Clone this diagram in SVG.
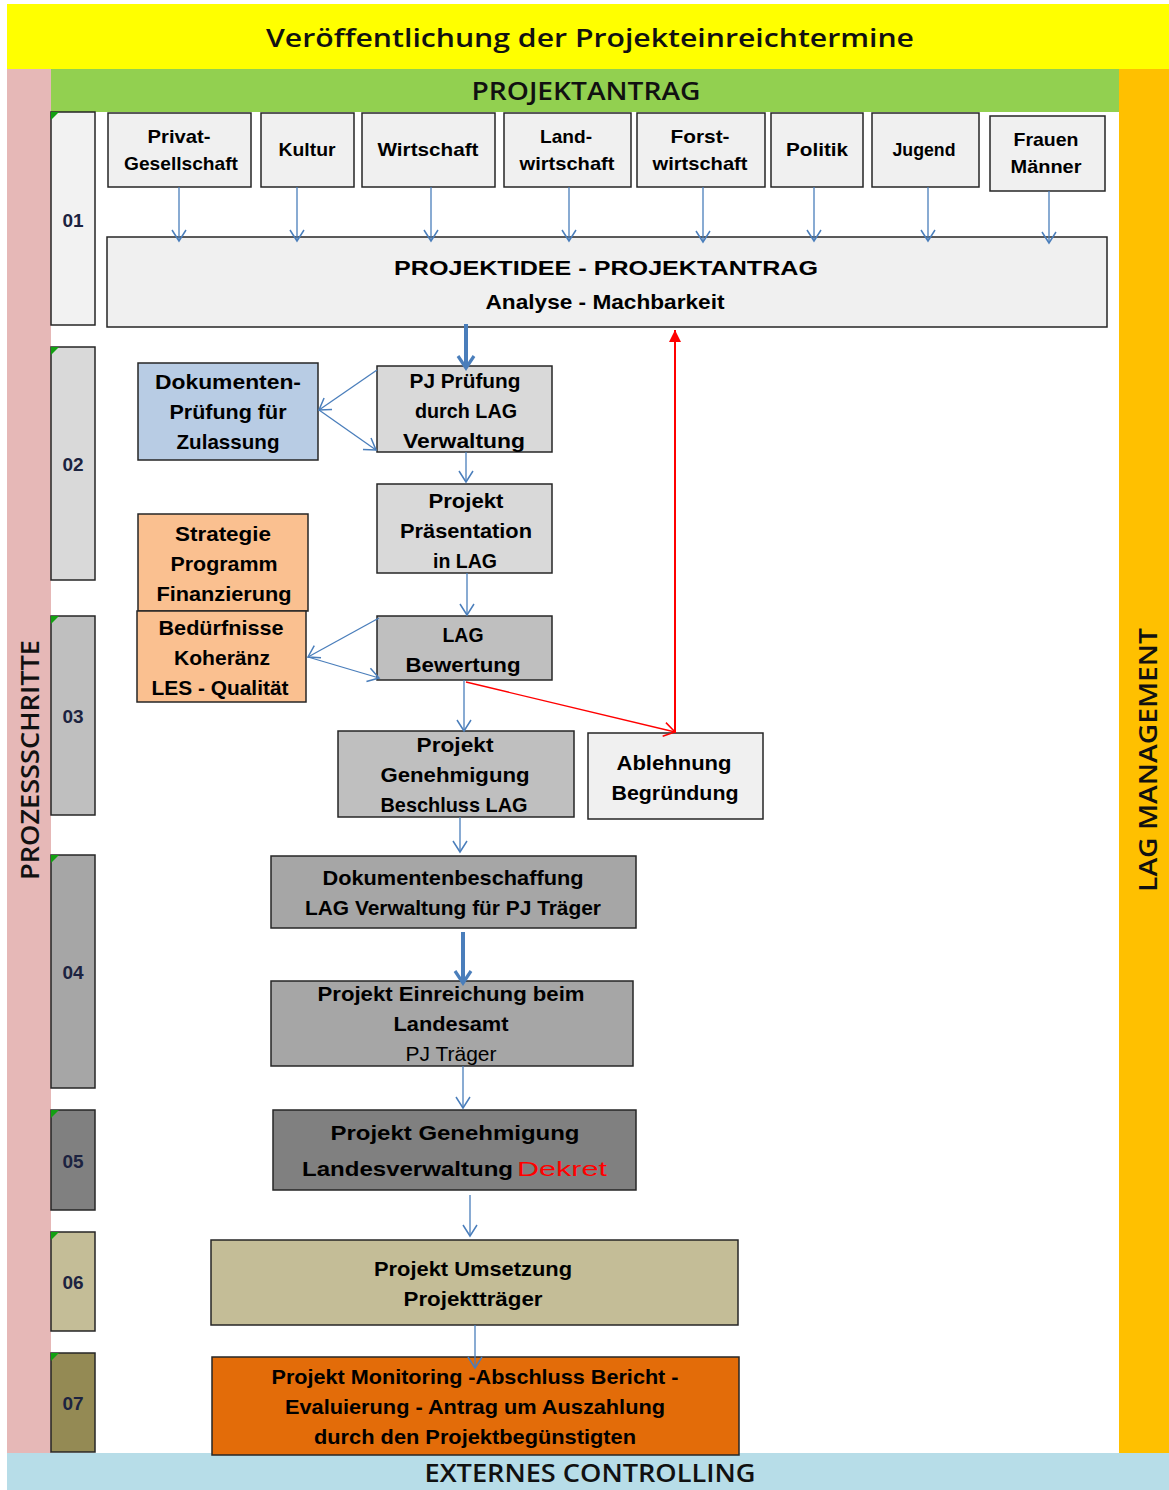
<svg xmlns="http://www.w3.org/2000/svg" width="1169" height="1490" viewBox="0 0 1169 1490">
<style>
.t{font-family:"Liberation Sans",Arial,sans-serif;font-weight:bold;font-size:21px;fill:#000;text-anchor:middle}
.s{font-size:19px}
.n{font-weight:normal}
.box{stroke:#262626;stroke-width:1.5}
.step{stroke:#262626;stroke-width:1.5}
.lbl{font-family:"Liberation Sans",Arial,sans-serif;font-weight:bold;font-size:19px;fill:#1c2340;text-anchor:middle}
.band{font-family:"Open Sans","Liberation Sans",Arial,sans-serif;font-weight:600;font-size:26px;fill:#111;text-anchor:middle}
.c{stroke:#4a7ebb;stroke-width:1.3;fill:none}
.ct{stroke:#4a7ebb;stroke-width:4;fill:none}
.tri{fill:#12a012}
</style>
<defs>
<marker id="a" markerUnits="userSpaceOnUse" markerWidth="24" markerHeight="24" viewBox="-12 -12 24 24" refX="0" refY="0" orient="auto" overflow="visible">
<path d="M-11,-7 L0,0 L-11,7" fill="none" stroke="#4a7ebb" stroke-width="1.5"/>
</marker>
<marker id="ab" markerUnits="userSpaceOnUse" markerWidth="24" markerHeight="24" viewBox="-12 -12 24 24" refX="0" refY="0" orient="auto" overflow="visible">
<path d="M-12,-8 L0,0 L-12,8" fill="none" stroke="#4a7ebb" stroke-width="3.2"/>
</marker>
<marker id="ar" markerUnits="userSpaceOnUse" markerWidth="24" markerHeight="24" viewBox="-12 -12 24 24" refX="0" refY="0" orient="auto" overflow="visible">
<path d="M-11,-7 L0,0 L-11,7" fill="none" stroke="#ff0000" stroke-width="1.5"/>
</marker>
<marker id="arf" markerUnits="userSpaceOnUse" markerWidth="24" markerHeight="24" viewBox="-12 -12 24 24" refX="0" refY="0" orient="auto" overflow="visible">
<path d="M-12,-6 L0,0 L-12,6 Z" fill="#ff0000" stroke="none"/>
</marker>
</defs>

<rect width="1169" height="1490" fill="#ffffff"/>

<!-- bands -->
<g id="band-title">
<rect x="7" y="4" width="1162" height="65" fill="#ffff00"/>
<text class="band" x="590" y="47" font-size="29" textLength="648" lengthAdjust="spacingAndGlyphs">Veröffentlichung der Projekteinreichtermine</text>
</g>
<g id="band-left">
<rect x="7" y="69" width="44" height="1384" fill="#e6b8b7"/>
<text class="band" transform="translate(39,760) rotate(-90)" x="0" y="0" font-size="25" textLength="240" lengthAdjust="spacingAndGlyphs">PROZESSSCHRITTE</text>
</g>
<g id="band-right">
<rect x="1119" y="69" width="50" height="1384" fill="#ffc000"/>
<text class="band" transform="translate(1157,760) rotate(-90)" x="0" y="0" font-size="25" textLength="264" lengthAdjust="spacingAndGlyphs">LAG MANAGEMENT</text>
</g>
<g id="band-top">
<rect x="51" y="69" width="1068" height="43" fill="#92d050"/>
<text class="band" x="586" y="100" textLength="229" lengthAdjust="spacingAndGlyphs">PROJEKTANTRAG</text>
</g>
<g id="band-bottom">
<rect x="7" y="1453" width="1162" height="37" fill="#b7dde8"/>
<text class="band" x="590" y="1482" font-size="25" textLength="331" lengthAdjust="spacingAndGlyphs">EXTERNES CONTROLLING</text>
</g>

<!-- step boxes -->
<g id="step-01"><rect class="step" x="51" y="112" width="44" height="213" fill="#f2f2f2"/><polygon class="tri" points="51,112 59,112 51,120"/><text class="lbl" x="73" y="227">01</text></g>
<g id="step-02"><rect class="step" x="51" y="347" width="44" height="233" fill="#d9d9d9"/><polygon class="tri" points="51,347 59,347 51,355"/><text class="lbl" x="73" y="471">02</text></g>
<g id="step-03"><rect class="step" x="51" y="616" width="44" height="199" fill="#bfbfbf"/><polygon class="tri" points="51,616 59,616 51,624"/><text class="lbl" x="73" y="723">03</text></g>
<g id="step-04"><rect class="step" x="51" y="855" width="44" height="233" fill="#a6a6a6"/><polygon class="tri" points="51,855 59,855 51,863"/><text class="lbl" x="73" y="979">04</text></g>
<g id="step-05"><rect class="step" x="51" y="1110" width="44" height="100" fill="#808080"/><polygon class="tri" points="51,1110 59,1110 51,1118"/><text class="lbl" x="73" y="1168">05</text></g>
<g id="step-06"><rect class="step" x="51" y="1232" width="44" height="99" fill="#c4bd97"/><polygon class="tri" points="51,1232 59,1232 51,1240"/><text class="lbl" x="73" y="1289">06</text></g>
<g id="step-07"><rect class="step" x="51" y="1353" width="44" height="99" fill="#948a54"/><polygon class="tri" points="51,1353 59,1353 51,1361"/><text class="lbl" x="73" y="1410">07</text></g>

<!-- top source boxes -->
<g id="n-privat"><rect class="box" x="108" y="113" width="143" height="74" fill="#f0f0f0"/>
<text class="t s" x="179" y="143" textLength="63" lengthAdjust="spacingAndGlyphs">Privat-</text>
<text class="t s" x="181" y="170" textLength="114" lengthAdjust="spacingAndGlyphs">Gesellschaft</text></g>
<g id="n-kultur"><rect class="box" x="261" y="113" width="93" height="74" fill="#f0f0f0"/>
<text class="t s" x="307" y="156" textLength="57" lengthAdjust="spacingAndGlyphs">Kultur</text></g>
<g id="n-wirtschaft"><rect class="box" x="362" y="113" width="133" height="74" fill="#f0f0f0"/>
<text class="t s" x="428" y="156" textLength="101" lengthAdjust="spacingAndGlyphs">Wirtschaft</text></g>
<g id="n-land"><rect class="box" x="504" y="113" width="127" height="74" fill="#f0f0f0"/>
<text class="t s" x="566" y="143" textLength="52" lengthAdjust="spacingAndGlyphs">Land-</text>
<text class="t s" x="567" y="170" textLength="95" lengthAdjust="spacingAndGlyphs">wirtschaft</text></g>
<g id="n-forst"><rect class="box" x="637" y="113" width="128" height="74" fill="#f0f0f0"/>
<text class="t s" x="700" y="143" textLength="59" lengthAdjust="spacingAndGlyphs">Forst-</text>
<text class="t s" x="700" y="170" textLength="95" lengthAdjust="spacingAndGlyphs">wirtschaft</text></g>
<g id="n-politik"><rect class="box" x="771" y="113" width="92" height="74" fill="#f0f0f0"/>
<text class="t s" x="817" y="156" textLength="62" lengthAdjust="spacingAndGlyphs">Politik</text></g>
<g id="n-jugend"><rect class="box" x="872" y="113" width="107" height="74" fill="#f0f0f0"/>
<text class="t s" x="924" y="156" textLength="63" lengthAdjust="spacingAndGlyphs">Jugend</text></g>
<g id="n-frauen"><rect class="box" x="990" y="116" width="115" height="75" fill="#f0f0f0"/>
<text class="t s" x="1046" y="146" textLength="65" lengthAdjust="spacingAndGlyphs">Frauen</text>
<text class="t s" x="1046" y="173" textLength="71" lengthAdjust="spacingAndGlyphs">Männer</text></g>

<g id="n-projektidee"><rect class="box" x="107" y="237" width="1000" height="90" fill="#f0f0f0"/>
<text class="t" x="606" y="275" font-size="26" textLength="424" lengthAdjust="spacingAndGlyphs">PROJEKTIDEE - PROJEKTANTRAG</text>
<text class="t" x="605" y="309" font-size="21" textLength="239" lengthAdjust="spacingAndGlyphs">Analyse - Machbarkeit</text></g>

<g id="n-dokpruef"><rect class="box" x="138" y="363" width="180" height="97" fill="#b8cce4"/>
<text class="t" x="228" y="389" textLength="146" lengthAdjust="spacingAndGlyphs">Dokumenten-</text>
<text class="t" x="228" y="419" textLength="117" lengthAdjust="spacingAndGlyphs">Prüfung für</text>
<text class="t" x="228" y="449" textLength="103" lengthAdjust="spacingAndGlyphs">Zulassung</text></g>

<g id="n-pjpruef"><rect class="box" x="377" y="366" width="175" height="86" fill="#d9d9d9"/>
<text class="t" x="465" y="388" textLength="111" lengthAdjust="spacingAndGlyphs">PJ Prüfung</text>
<text class="t" x="466" y="418" textLength="102" lengthAdjust="spacingAndGlyphs">durch LAG</text>
<text class="t" x="464" y="448" textLength="122" lengthAdjust="spacingAndGlyphs">Verwaltung</text></g>

<g id="n-praesentation"><rect class="box" x="377" y="484" width="175" height="89" fill="#d9d9d9"/>
<text class="t" x="466" y="508" textLength="75" lengthAdjust="spacingAndGlyphs">Projekt</text>
<text class="t" x="466" y="538" textLength="132" lengthAdjust="spacingAndGlyphs">Präsentation</text>
<text class="t" x="465" y="568" textLength="64" lengthAdjust="spacingAndGlyphs">in LAG</text></g>

<g id="n-strategie"><rect class="box" x="138" y="514" width="170" height="97" fill="#fac090"/>
<text class="t" x="223" y="541" textLength="96" lengthAdjust="spacingAndGlyphs">Strategie</text>
<text class="t" x="224" y="571" textLength="107" lengthAdjust="spacingAndGlyphs">Programm</text>
<text class="t" x="224" y="601" textLength="135" lengthAdjust="spacingAndGlyphs">Finanzierung</text></g>

<g id="n-beduerfnisse"><rect class="box" x="137" y="611" width="169" height="91" fill="#fac090"/>
<text class="t" x="221" y="635" textLength="125" lengthAdjust="spacingAndGlyphs">Bedürfnisse</text>
<text class="t" x="222" y="665" textLength="96" lengthAdjust="spacingAndGlyphs">Koheränz</text>
<text class="t" x="220" y="695" textLength="137" lengthAdjust="spacingAndGlyphs">LES - Qualität</text></g>

<g id="n-lagbewertung"><rect class="box" x="377" y="616" width="175" height="64" fill="#bfbfbf"/>
<text class="t" x="463" y="642" textLength="41" lengthAdjust="spacingAndGlyphs">LAG</text>
<text class="t" x="463" y="672" textLength="115" lengthAdjust="spacingAndGlyphs">Bewertung</text></g>

<g id="n-genehmigung-lag"><rect class="box" x="338" y="731" width="236" height="86" fill="#bfbfbf"/>
<text class="t" x="455" y="752" textLength="77" lengthAdjust="spacingAndGlyphs">Projekt</text>
<text class="t" x="455" y="782" textLength="149" lengthAdjust="spacingAndGlyphs">Genehmigung</text>
<text class="t" x="454" y="812" textLength="147" lengthAdjust="spacingAndGlyphs">Beschluss LAG</text></g>

<g id="n-ablehnung"><rect class="box" x="588" y="733" width="175" height="86" fill="#f0f0f0"/>
<text class="t" x="674" y="770" textLength="115" lengthAdjust="spacingAndGlyphs">Ablehnung</text>
<text class="t" x="675" y="800" textLength="127" lengthAdjust="spacingAndGlyphs">Begründung</text></g>

<g id="n-dokbeschaffung"><rect class="box" x="271" y="856" width="365" height="72" fill="#a6a6a6"/>
<text class="t" x="453" y="885" textLength="261" lengthAdjust="spacingAndGlyphs">Dokumentenbeschaffung</text>
<text class="t" x="453" y="915" textLength="296" lengthAdjust="spacingAndGlyphs">LAG Verwaltung für PJ Träger</text></g>

<g id="n-einreichung"><rect class="box" x="271" y="981" width="362" height="85" fill="#a6a6a6"/>
<text class="t" x="451" y="1001" textLength="267" lengthAdjust="spacingAndGlyphs">Projekt  Einreichung beim</text>
<text class="t" x="451" y="1031" textLength="115" lengthAdjust="spacingAndGlyphs">Landesamt</text>
<text class="t n" x="451" y="1061" textLength="91" lengthAdjust="spacingAndGlyphs">PJ Träger</text></g>

<g id="n-genehmigung-land"><rect class="box" x="273" y="1110" width="363" height="80" fill="#808080"/>
<text class="t" x="455" y="1140" textLength="249" lengthAdjust="spacingAndGlyphs">Projekt Genehmigung</text>
<text class="t" x="302" y="1176" style="text-anchor:start" textLength="211" lengthAdjust="spacingAndGlyphs">Landesverwaltung</text>
<text class="t n" x="517" y="1176" style="text-anchor:start;fill:#ff0000" font-size="28" textLength="90" lengthAdjust="spacingAndGlyphs">Dekret</text></g>

<g id="n-umsetzung"><rect class="box" x="211" y="1240" width="527" height="85" fill="#c4bd97"/>
<text class="t" x="473" y="1276" textLength="198" lengthAdjust="spacingAndGlyphs">Projekt Umsetzung</text>
<text class="t" x="473" y="1306" textLength="139" lengthAdjust="spacingAndGlyphs">Projektträger</text></g>

<g id="n-monitoring"><rect class="box" x="212" y="1357" width="527" height="98" fill="#e36c09"/>
<text class="t" x="475" y="1384" textLength="407" lengthAdjust="spacingAndGlyphs">Projekt Monitoring  -Abschluss Bericht -</text>
<text class="t" x="475" y="1414" textLength="380" lengthAdjust="spacingAndGlyphs">Evaluierung  - Antrag um Auszahlung</text>
<text class="t" x="475" y="1444" textLength="322" lengthAdjust="spacingAndGlyphs">durch den Projektbegünstigten</text></g>

<!-- connectors -->
<g id="connectors">
<line class="c" x1="179" y1="187" x2="179" y2="241" marker-end="url(#a)"/>
<line class="c" x1="297" y1="187" x2="297" y2="241" marker-end="url(#a)"/>
<line class="c" x1="431" y1="187" x2="431" y2="241" marker-end="url(#a)"/>
<line class="c" x1="569" y1="187" x2="569" y2="241" marker-end="url(#a)"/>
<line class="c" x1="703" y1="187" x2="703" y2="242" marker-end="url(#a)"/>
<line class="c" x1="814" y1="187" x2="814" y2="241" marker-end="url(#a)"/>
<line class="c" x1="928" y1="187" x2="928" y2="241" marker-end="url(#a)"/>
<line class="c" x1="1049" y1="191" x2="1049" y2="243" marker-end="url(#a)"/>
<line class="ct" x1="466" y1="324" x2="466" y2="368" marker-end="url(#ab)"/>
<line class="c" x1="377" y1="370" x2="319" y2="410" marker-end="url(#a)"/>
<line class="c" x1="319" y1="410" x2="376" y2="450" marker-end="url(#a)"/>
<line class="c" x1="466" y1="452" x2="466" y2="482" marker-end="url(#a)"/>
<line class="c" x1="467" y1="573" x2="467" y2="615" marker-end="url(#a)"/>
<line class="c" x1="379" y1="618" x2="308" y2="657" marker-end="url(#a)"/>
<line class="c" x1="308" y1="657" x2="379" y2="678" marker-end="url(#a)"/>
<line class="c" x1="464" y1="680" x2="464" y2="731" marker-end="url(#a)"/>
<line x1="466" y1="682" x2="675" y2="732" stroke="#ff0000" stroke-width="1.3" marker-end="url(#ar)"/>
<line x1="675" y1="733" x2="675" y2="330" stroke="#ff0000" stroke-width="2" marker-end="url(#arf)"/>
<line class="c" x1="460" y1="817" x2="460" y2="852" marker-end="url(#a)"/>
<line class="ct" x1="463" y1="932" x2="463" y2="983" marker-end="url(#ab)"/>
<line class="c" x1="463" y1="1066" x2="463" y2="1108" marker-end="url(#a)"/>
<line class="c" x1="470" y1="1195" x2="470" y2="1236" marker-end="url(#a)"/>
<line class="c" x1="475" y1="1325" x2="475" y2="1368" marker-end="url(#a)"/>
</g>
</svg>
